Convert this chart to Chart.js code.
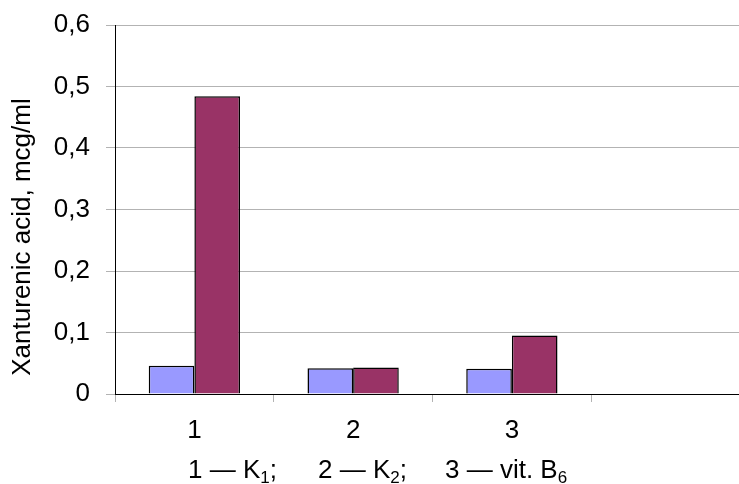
<!DOCTYPE html>
<html>
<head>
<meta charset="utf-8">
<script src="https://cdn.jsdelivr.net/npm/chart.js@4"></script>
<style>
  html, body { margin: 0; padding: 0; background: #fff; overflow: hidden; }
  #wrap { width: 760px; height: 484px; }
</style>
</head>
<body>
<div id="wrap"><canvas id="chart"></canvas></div>
<script>
// data
const categories = ["1", "2", "3", ""];
const controlValues = [0.046, 0.042, 0.041, null];
const testValues = [0.484, 0.043, 0.095, null];
const yTicks = [0, 0.1, 0.2, 0.3, 0.4, 0.5, 0.6];
const yTitle = "Xanturenic acid, mcg/ml";
// caption pieces: [text, subscript, tail]
const captionParts = [["1 — K", "1", ";"], ["2 — K", "2", ";"], ["3 — vit. B", "6", ""]];

const FONT = '"Liberation Sans", Arial, sans-serif';
const GRID = "#b3b3b3";

/* draw the rotated y title and the caption under the axis */
const extraText = {
  id: "extraText",
  afterDraw(chart) {
    const ctx = chart.ctx;
    ctx.save();
    ctx.fillStyle = "#000";

    // y title
    ctx.font = "26px " + FONT;
    ctx.textAlign = "center";
    ctx.textBaseline = "middle";
    ctx.translate(23, 237);
    ctx.rotate(-Math.PI / 2);
    ctx.fillText(yTitle, 0, 0);
    ctx.restore();

    // caption line
    ctx.save();
    ctx.fillStyle = "#000";
    ctx.textBaseline = "alphabetic";
    ctx.textAlign = "left";
    const starts = [188, 318, 445];
    const base = 478;
    captionParts.forEach((p, i) => {
      let x = starts[i];
      ctx.font = "26px " + FONT;
      ctx.fillText(p[0], x, base);
      x += ctx.measureText(p[0]).width;
      ctx.font = "17px " + FONT;
      ctx.fillText(p[1], x, base + 5);
      x += ctx.measureText(p[1]).width;
      ctx.font = "26px " + FONT;
      ctx.fillText(p[2], x, base);
    });
    ctx.restore();
  }
};

new Chart(document.getElementById("chart"), {
  type: "bar",
  data: {
    labels: categories,
    datasets: [
      {
        label: "series 1",
        data: controlValues,
        backgroundColor: "#9999ff",
        borderColor: "#000",
        borderWidth: 1.5
      },
      {
        label: "series 2",
        data: testValues,
        backgroundColor: "#993366",
        borderColor: "#000",
        borderWidth: 1.5
      }
    ]
  },
  options: {
    responsive: true,
    maintainAspectRatio: false,
    animation: false,
    layout: { padding: { top: 25, right: 10, left: 0, bottom: 0 } },
    datasets: { bar: { barPercentage: 1, categoryPercentage: 0.575 } },
    plugins: {
      legend: { display: false },
      tooltip: { enabled: false }
    },
    scales: {
      x: {
        offset: true,
        border: { color: "#000", width: 1 },
        grid: { drawOnChartArea: false, drawTicks: true, tickLength: 8, color: GRID },
        ticks: {
          color: "#000",
          font: { family: FONT, size: 26 },
          padding: 13,
          maxRotation: 0
        },
        afterFit: s => { s.height = 90; s.paddingLeft = 0; s.paddingRight = 0; }
      },
      y: {
        min: 0,
        max: 0.6,
        border: { color: "#000", width: 1 },
        grid: { color: GRID, lineWidth: 1, tickLength: 9 },
        afterBuildTicks: s => { s.ticks = yTicks.map(v => ({ value: v })); },
        ticks: {
          color: "#000",
          font: { family: FONT, size: 26 },
          padding: 16,
          callback: v => v === 0 ? "0" : (Math.round(v * 10) / 10).toFixed(1).replace(".", ",")
        },
        afterFit: s => { s.width = 115; s.paddingTop = 0; s.paddingBottom = 0; }
      }
    }
  },
  plugins: [extraText]
});
</script>
</body>
</html>
